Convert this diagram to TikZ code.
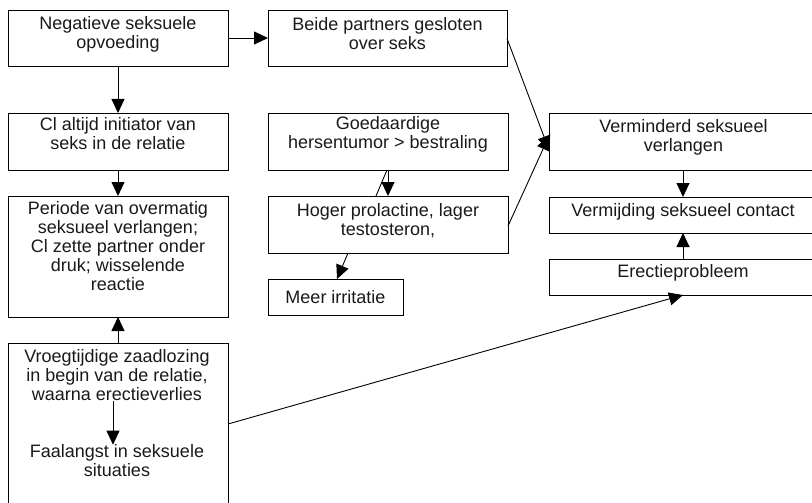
\documentclass[tikz,border=0pt]{standalone}
\usepackage{fontspec}
\setmainfont{Liberation Sans}
\usetikzlibrary{arrows.meta}
\begin{document}
\begin{tikzpicture}[x=1pt,y=-1pt,
  box/.style={draw=black, line width=0.9pt, rectangle, inner sep=0pt, outer sep=0pt},
  txt/.style={inner sep=0pt, align=center, font=\fontsize{18}{19}\selectfont, text=black!90},
  conn/.style={line width=0.9pt, -{Triangle[length=14pt,width=13pt]}},
  plain/.style={line width=0.9pt}]
\useasboundingbox (0,0) rectangle (812,503);
\clip (0,0) rectangle (812,503);
% boxes
\node[box, minimum width=220pt, minimum height=56pt] (A) at (118,38) {};
\node[box, minimum width=239pt, minimum height=56pt] (B) at (387.5,38) {};
\node[box, minimum width=220pt, minimum height=57pt] (C) at (118,141.5) {};
\node[box, minimum width=220pt, minimum height=121pt] (D) at (118,256.5) {};
\node[box, minimum width=220pt, minimum height=162pt] (F) at (118,424) {};
\node[box, minimum width=240pt, minimum height=57pt] (G) at (388,141.5) {};
\node[box, minimum width=240pt, minimum height=57pt] (H) at (388,224.5) {};
\node[box, minimum width=135pt, minimum height=36pt] (I) at (335.5,297) {};
\node[box, minimum width=268pt, minimum height=57pt] (V) at (683,141.5) {};
\node[box, minimum width=268pt, minimum height=36pt] (W) at (683,215) {};
\node[box, minimum width=268pt, minimum height=36pt] (E) at (683,277) {};
% texts
\node[txt] (tA) at (118,34) {Negatieve seksuele\\opvoeding};
\node[txt] (tB) at (387.5,34) {Beide partners gesloten\\over seks};
\node[txt] (tC) at (118,134) {Cl altijd initiator van\\seks in de relatie};
\node[txt] (tD) at (118,246) {Periode van overmatig\\seksueel verlangen;\\Cl zette partner onder\\druk; wisselende\\reactie};
\node[txt] (tF1) at (117,375.5) {Vroegtijdige zaadlozing\\in begin van de relatie,\\waarna erectieverlies};
\node[txt] (tF2) at (117,461) {Faalangst in seksuele\\situaties};
\node[txt] (tG) at (388,134) {Goedaardige\\hersentumor > bestraling};
\node[txt] (tH) at (388,221) {Hoger prolactine, lager\\testosteron,};
\node[txt] (tI) at (335.5,297) {Meer irritatie};
\node[txt] (tV) at (683.5,137.5) {Verminderd seksueel\\verlangen};
\node[txt] (tW) at (683,212) {Vermijding seksueel contact};
\node[txt] (tE) at (683,273) {Erectieprobleem};
% connectors
\draw[conn] (A.east) -- (B.west);
\draw[conn] (A.south) -- (C.north);
\draw[conn] (C.south) -- (D.north);
\draw[conn] (F.north) -- (D.south);
\draw[conn] ([xshift=-4pt]tF1.south) -- ([xshift=-4pt]tF2.north);
\draw[conn] (G.south) -- (H.north);
\draw[plain] ([xshift=-12pt]H.north) -- ([xshift=-1pt]G.south);
\draw[conn] ([xshift=-40pt]H.south) -- ([xshift=1.5pt]I.north);
\draw[conn] ([yshift=-0.5pt]B.east) -- ([yshift=-8.5pt]V.west);
\draw[conn] ([yshift=-1.5pt]H.east) -- ([yshift=5.5pt]V.west);
\draw[conn] (V.south) -- (W.north);
\draw[conn] (E.north) -- (W.south);
\draw[conn] (F.east) -- (E.south);
\end{tikzpicture}
\end{document}
